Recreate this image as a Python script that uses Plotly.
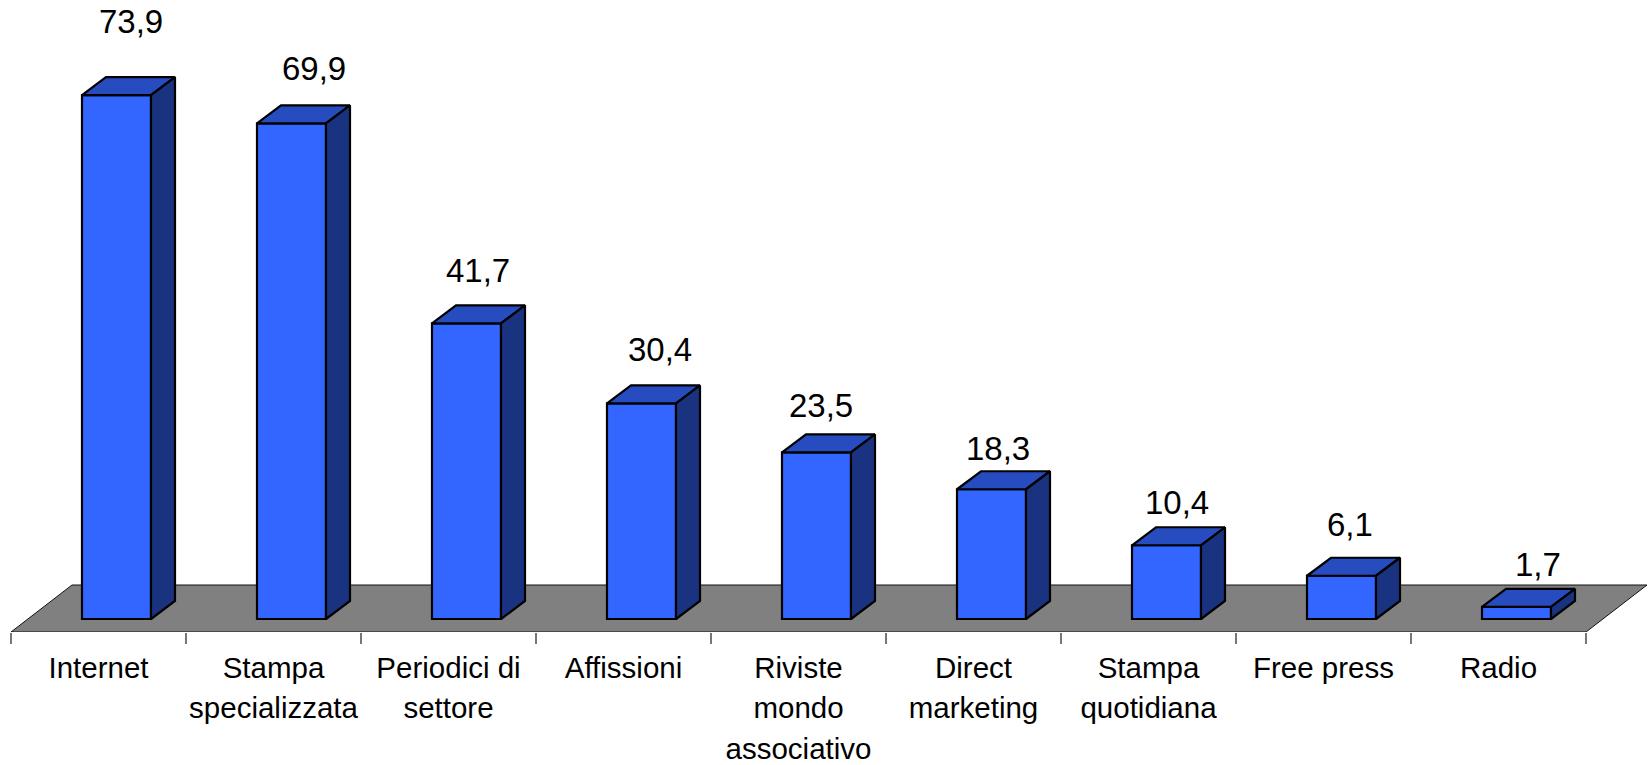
import plotly.graph_objects as go

categories = ["Internet", "Stampa<br>specializzata", "Periodici di<br>settore", "Affissioni",
              "Riviste<br>mondo<br>associativo", "Direct<br>marketing", "Stampa<br>quotidiana",
              "Free press", "Radio"]
values = [73.9, 69.9, 41.7, 30.4, 23.5, 18.3, 10.4, 6.1, 1.7]
value_labels = ["73,9", "69,9", "41,7", "30,4", "23,5", "18,3", "10,4", "6,1", "1,7"]

# label nudges in pixels, relative to each bar's top centre
label_xshift = [14.5, 22.5, 11, 18.5, 4.5, 6.5, 10.5, 8.5, 21.5]
label_gap = [62, 43, 41, 42, 35, 29, 31, 40, 31]

# pixel geometry of the pseudo-3D projection
W, H = 1649, 765
PX_X = 175.0
PX_Y = 7.09
AXIS_PX = 632
ZERO_PX = 619
CENTER0_PX = 98.5
to_x = lambda px: px / PX_X
to_y = lambda px: px / PX_Y

idx = list(range(len(categories)))
bar_off = to_x(18)
bar_w = to_x(69)
depth_x, depth_y = to_x(24), to_y(18)
floor_x, floor_y = to_x(61), to_y(47)
floor_front = -(AXIS_PX - ZERO_PX) / PX_Y
n = len(categories)

FONT = "Liberation Sans, Arial, sans-serif"

top_x, top_y, side_x, side_y = [], [], [], []
for i, v in zip(idx, values):
    l = i + bar_off - bar_w / 2
    r = i + bar_off + bar_w / 2
    top_x += [l, r, r + depth_x, l + depth_x, l, None]
    top_y += [v, v, v + depth_y, v + depth_y, v, None]
    side_x += [r, r + depth_x, r + depth_x, r, r, None]
    side_y += [0, depth_y, v + depth_y, v, 0, None]

fig = go.Figure()
fig.add_bar(x=[i + bar_off for i in idx], y=values, width=bar_w,
            marker=dict(color="#3366FF", line=dict(color="black", width=2.2)),
            hoverinfo="y", showlegend=False)
fig.add_scatter(x=top_x, y=top_y, mode="lines", fill="toself", fillcolor="#264CBF",
                line=dict(color="black", width=2.2), hoverinfo="skip", showlegend=False)
fig.add_scatter(x=side_x, y=side_y, mode="lines", fill="toself", fillcolor="#1A3380",
                line=dict(color="black", width=2.2), hoverinfo="skip", showlegend=False)

x0, x1 = -0.5, n - 0.5
floor_path = (f"M {x0} {floor_front} L {x1} {floor_front} "
              f"L {x1 + floor_x} {floor_front + floor_y} L {x0 + floor_x} {floor_front + floor_y} Z")
fig.add_shape(type="path", path=floor_path, xref="x", yref="y", layer="below",
              fillcolor="#808080", line=dict(color="#111111", width=1))

for i, v, t, dx, gap in zip(idx, values, value_labels, label_xshift, label_gap):
    fig.add_annotation(x=i + bar_off, y=v, text=t, showarrow=False, xref="x", yref="y",
                       xanchor="center", yanchor="bottom", xshift=dx, yshift=gap - 9,
                       font=dict(family=FONT, size=33, color="black"))

fig.update_layout(
    width=W, height=H, margin=dict(l=0, r=0, t=0, b=H - AXIS_PX),
    paper_bgcolor="white", plot_bgcolor="white", showlegend=False,
    xaxis=dict(range=[to_x(-CENTER0_PX), to_x(W - CENTER0_PX)], showgrid=False, zeroline=False,
               showline=False, tickmode="array", tickvals=idx, automargin=False,
               ticktext=[f'<span style="font-size:29.5px">' +
                         c.replace("<br>", '</span><br><span style="font-size:29.5px">') + "</span>"
                         for c in categories],
               ticks="", tickangle=0, ticklabelstandoff=13,
               tickfont=dict(family=FONT, size=31.5, color="black"),
               minor=dict(tickmode="array", tickvals=[i - 0.5 for i in range(n + 1)],
                          ticks="outside", ticklen=11, tickwidth=1.5, tickcolor="#777777",
                          showgrid=False)),
    yaxis=dict(range=[floor_front, ZERO_PX / PX_Y], visible=False, automargin=False),
)
fig.write_html("out.html", config=dict(displayModeBar=False),
               post_script="document.body.style.margin='0';document.body.style.overflow='hidden';")
